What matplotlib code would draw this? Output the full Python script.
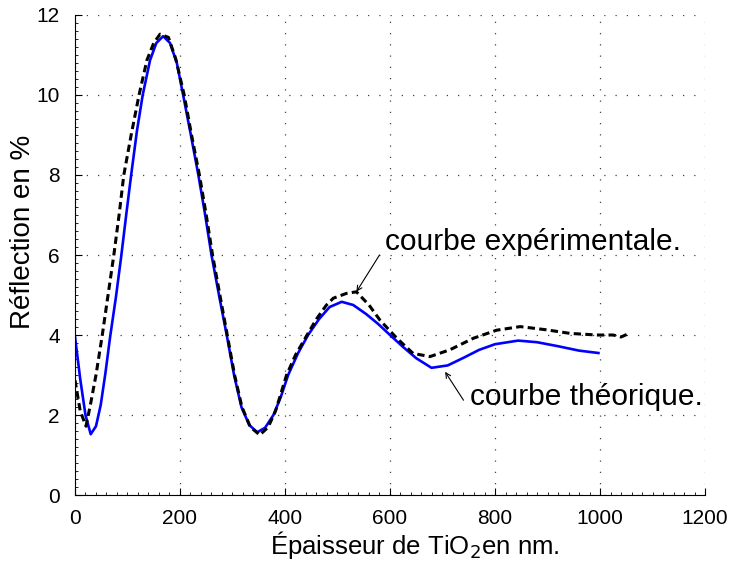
import matplotlib.pyplot as plt
from matplotlib.ticker import MultipleLocator

# courbe théorique (bleue)
x_theo = [0, 10, 20, 30, 40, 49, 58, 67, 78, 88, 98, 107, 118, 129, 143, 155, 168, 181,
          194, 206, 220, 235, 248, 260, 275, 289, 303, 317, 332, 347, 362, 378, 392, 406,
          425, 444, 465, 485, 508, 530, 555, 578, 600, 625, 650, 679, 710, 740, 770, 800,
          844, 880, 920, 960, 997]
y_theo = [3.96, 2.9, 2.0, 1.52, 1.72, 2.25, 3.05, 3.96, 4.95, 5.96, 7.05, 8.0, 9.1, 10.0,
          10.87, 11.3, 11.47, 11.3, 10.8, 10.0, 9.05, 8.0, 7.0, 6.0, 4.95, 4.0, 3.0, 2.2,
          1.75, 1.57, 1.68, 2.0, 2.45, 3.0, 3.55, 4.0, 4.4, 4.7, 4.83, 4.75, 4.52, 4.27, 4.0,
          3.7, 3.42, 3.18, 3.24, 3.43, 3.63, 3.77, 3.86, 3.82, 3.72, 3.61, 3.55]

# courbe expérimentale (pointillés noirs)
x_exp = [0, 10, 21, 30, 40, 52, 63, 74, 84, 93, 107, 122, 137, 150, 162, 178, 192, 208,
         222, 237, 250, 262, 276, 290, 304, 318, 334, 352, 368, 382, 403, 420, 442, 460,
         479, 492, 517, 536, 560, 581, 613, 644, 676, 714, 759, 803, 848, 898, 943, 994,
         1025, 1040, 1057]
y_exp = [2.87, 2.1, 1.72, 2.3, 3.0, 4.0, 5.0, 6.0, 7.0, 8.0, 9.0, 10.0, 10.87, 11.3, 11.52,
         11.44, 10.9, 10.0, 9.0, 8.0, 7.0, 6.0, 5.0, 4.0, 3.0, 2.2, 1.7, 1.5, 1.7, 2.1, 3.0,
         3.5, 4.0, 4.4, 4.75, 4.92, 5.04, 5.08, 4.75, 4.37, 3.92, 3.54, 3.46, 3.63, 3.92,
         4.12, 4.21, 4.13, 4.04, 4.0, 4.0, 3.95, 4.05]

plt.rcParams['font.family'] = ['Liberation Sans', 'DejaVu Sans']

fig = plt.figure(figsize=(7.38, 5.61), dpi=100)
ax = fig.add_axes([0.1016, 0.1176, 0.8537, 0.8557])

ax.plot(x_theo, y_theo, color='#0000ff', lw=1.9)
ax.plot(x_exp, y_exp, color='black', lw=2.2, ls=(0, (2.4, 1.4)))

ax.set_xlim(0, 1200)
ax.set_ylim(0, 12)
ax.xaxis.set_major_locator(MultipleLocator(200))
ax.yaxis.set_major_locator(MultipleLocator(2))
ax.xaxis.set_minor_locator(MultipleLocator(20))
ax.yaxis.set_minor_locator(MultipleLocator(0.2))
ax.tick_params(which='both', direction='in', labelsize=15)
ax.tick_params(axis='x', pad=10)
ax.tick_params(axis='y', pad=11)
ax.tick_params(which='major', length=5)
ax.tick_params(which='minor', length=2.5)
for s in ['top', 'right']:
    ax.spines[s].set_visible(False)
ax.grid(True, which='major', ls=(0, (1, 8)), color='#444444', lw=0.9)

ax.set_xlabel('Épaisseur de TiO$_2$en nm.', fontsize=18.5)
ax.xaxis.set_label_coords(0.54, -0.07)
ax.set_ylabel('Réflection en %', fontsize=20)
ax.yaxis.set_label_coords(-0.062, 0.548)

# annotations
ax.text(590, 6.12, 'courbe expérimentale.', fontsize=21.5, va='baseline', ha='left')
ax.annotate('', xy=(536, 5.08), xytext=(580, 6.0),
            arrowprops=dict(arrowstyle='->', color='black', lw=0.8,
                            shrinkA=0, shrinkB=0, mutation_scale=9))
ax.text(752, 2.25, 'courbe théorique.', fontsize=21.5, va='baseline', ha='left')
ax.annotate('', xy=(705, 3.08), xytext=(740, 2.37),
            arrowprops=dict(arrowstyle='->', color='black', lw=0.8,
                            shrinkA=0, shrinkB=0, mutation_scale=9))

fig.savefig('out.png', dpi=100)
